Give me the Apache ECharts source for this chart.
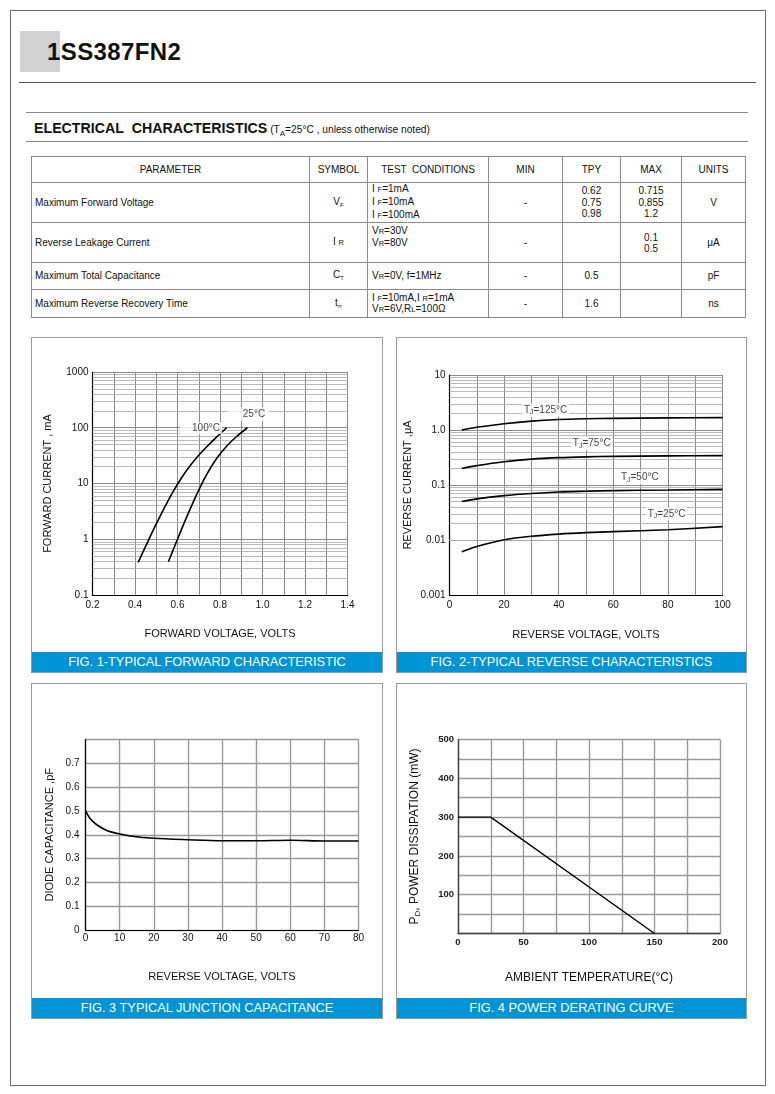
<!DOCTYPE html>
<html><head><meta charset="utf-8">
<script src="https://cdn.jsdelivr.net/npm/echarts@6/dist/echarts.min.js"></script>
<style>
html,body{margin:0;padding:0;background:#fff;}
#page{position:relative;width:775px;height:1094px;overflow:hidden;font-family:"Liberation Sans",Arial,Helvetica,sans-serif;color:#111;}
.abs{position:absolute;white-space:nowrap;}
.hl{position:absolute;height:0;}
.panel{position:absolute;border:1px solid #9a9a9a;box-sizing:border-box;}
.cap{position:absolute;background:#0094d5;color:#fff;font-size:12.8px;text-align:center;line-height:20px;height:20px;white-space:nowrap;}
#tbl{position:absolute;left:31px;top:156px;width:714px;border-collapse:collapse;table-layout:fixed;font-size:10px;line-height:11.7px;}
#tbl td{border:1px solid #8a8a8a;padding:0;vertical-align:middle;white-space:nowrap;overflow:hidden;}
#tbl td.c{text-align:center;}
#tbl td.l{text-align:left;padding-left:3px;}
#tbl td.t{text-align:left;padding-left:4px;}
#tbl tr.hd td{text-align:center;}
.s{font-size:7.5px;}
.sb{font-size:6px;position:relative;top:2px;}
#chart{position:absolute;left:0;top:0;width:775px;height:1094px;z-index:2;}
</style>
</head>
<body>
<div id="page">
  <!-- outer frame -->
  <div class="abs" style="left:10px;top:10px;width:754px;height:1074px;border:1px solid #6a6a6a;"></div>
  <!-- header -->
  <div class="abs" style="left:20px;top:31px;width:40px;height:41px;background:#d2d2d2;"></div>
  <div class="abs" style="left:47px;top:40px;font-size:24px;line-height:24px;font-weight:bold;color:#111;letter-spacing:0.4px;">1SS387FN2</div>
  <div class="hl" style="left:19px;top:82px;width:737px;border-top:1.5px solid #555;"></div>
  <div class="hl" style="left:26px;top:112px;width:722px;border-top:1.5px solid #888;"></div>
  <div class="abs" style="left:34px;top:121px;font-size:14.2px;line-height:14px;font-weight:bold;color:#111;">ELECTRICAL&nbsp; CHARACTERISTICS<span style="font-size:10.2px;font-weight:normal;"> (T<span style="font-size:8px;position:relative;top:3px;">A</span>=25°C , unless otherwise noted)</span></div>
  <div class="hl" style="left:26px;top:141px;width:722px;border-top:1.5px solid #888;"></div>

  <!-- table -->
  <table id="tbl">
    <colgroup><col style="width:278px"><col style="width:58px"><col style="width:121px"><col style="width:74px"><col style="width:58px"><col style="width:61px"><col style="width:64px"></colgroup>
    <tr class="hd" style="height:26px"><td>PARAMETER</td><td>SYMBOL</td><td style="white-space:pre">TEST  CONDITIONS</td><td>MIN</td><td>TPY</td><td>MAX</td><td>UNITS</td></tr>
    <tr style="height:40px"><td class="l">Maximum Forward Voltage</td><td class="c">V<span class="sb">F</span></td><td class="t">I <span class="s">F</span>=1mA<br>I <span class="s">F</span>=10mA<br>I <span class="s">F</span>=100mA</td><td class="c">-</td><td class="c">0.62<br>0.75<br>0.98</td><td class="c">0.715<br>0.855<br>1.2</td><td class="c">V</td></tr>
    <tr style="height:40px"><td class="l">Reverse Leakage Current</td><td class="c">I <span class="s">R</span></td><td class="t" style="vertical-align:top;padding-top:2px;line-height:11px;">V<span class="s">R</span>=30V<br>V<span class="s">R</span>=80V</td><td class="c">-</td><td class="c"></td><td class="c" style="line-height:11px;">0.1<br>0.5</td><td class="c">μA</td></tr>
    <tr style="height:27px"><td class="l">Maximum Total Capacitance</td><td class="c">C<span class="sb">T</span></td><td class="t">V<span class="s">R</span>=0V, f=1MHz</td><td class="c">-</td><td class="c">0.5</td><td class="c"></td><td class="c">pF</td></tr>
    <tr style="height:28px"><td class="l">Maximum Reverse Recovery Time</td><td class="c">t<span class="sb">rr</span></td><td class="t" style="line-height:10px;">I <span class="s">F</span>=10mA,I <span class="s">R</span>=1mA<br>V<span class="s">R</span>=6V,R<span class="s">L</span>=100Ω</td><td class="c">-</td><td class="c">1.6</td><td class="c"></td><td class="c">ns</td></tr>
  </table>

  <!-- panels -->
  <div class="panel" style="left:31px;top:337px;width:352px;height:336px;"></div>
  <div class="panel" style="left:396px;top:337px;width:351px;height:336px;"></div>
  <div class="panel" style="left:31px;top:683px;width:352px;height:336px;"></div>
  <div class="panel" style="left:396px;top:683px;width:351px;height:336px;"></div>
  <div class="cap" style="left:32px;top:652px;width:350px;">FIG. 1-TYPICAL FORWARD CHARACTERISTIC</div>
  <div class="cap" style="left:397px;top:652px;width:349px;">FIG. 2-TYPICAL REVERSE CHARACTERISTICS</div>
  <div class="cap" style="left:32px;top:998px;width:350px;">FIG. 3 TYPICAL JUNCTION CAPACITANCE</div>
  <div class="cap" style="left:397px;top:998px;width:349px;">FIG. 4 POWER DERATING CURVE</div>

  <div id="chart"></div>
</div>
<script>
// ---------------- data ----------------
// Fig.1 forward characteristic (V, mA)
const f1Volt100 = [0.415, 0.46, 0.50, 0.54, 0.58, 0.62, 0.66, 0.70, 0.74, 0.78, 0.831];
const f1Curr100 = [0.385, 0.90, 1.88, 3.78, 7.2, 12.8, 21, 32, 46.5, 66, 100];
const f1Volt25  = [0.557, 0.596, 0.643, 0.690, 0.737, 0.784, 0.831, 0.878, 0.929];
const f1Curr25  = [0.395, 0.92, 2.49, 6.31, 14.4, 28.1, 46.6, 69.7, 100];
const f1XTicks = ['0.2', '0.4', '0.6', '0.8', '1.0', '1.2', '1.4'];
const f1YTicks = ['0.1', '1', '10', '100', '1000'];

// Fig.2 reverse characteristic (V, uA)
const f2Volt  = [4.5, 10, 20, 30, 40, 50, 60, 80, 100];
const f2I125 = [1.0, 1.12, 1.30, 1.45, 1.55, 1.60, 1.63, 1.66, 1.68];
const f2I75  = [0.20, 0.225, 0.265, 0.295, 0.314, 0.325, 0.332, 0.338, 0.342];
const f2I50  = [0.050, 0.056, 0.064, 0.070, 0.0746, 0.077, 0.079, 0.081, 0.0834];
const f2I25  = [0.0061, 0.0076, 0.0101, 0.0117, 0.0128, 0.0136, 0.0142, 0.0154, 0.0175];
const f2XTicks = ['0', '20', '40', '60', '80', '100'];
const f2YTicks = ['0.001', '0.01', '0.1', '1.0', '10'];

// Fig.3 junction capacitance (V, pF)
const f3Volt = [0, 1.4, 3.3, 6.25, 9.8, 13.1, 20, 30, 40, 50, 60, 70, 80];
const f3Cap  = [0.5, 0.467, 0.442, 0.418, 0.404, 0.395, 0.385, 0.379, 0.375, 0.375, 0.377, 0.374, 0.374];
const f3XTicks = ['0', '10', '20', '30', '40', '50', '60', '70', '80'];
const f3YTicks = ['0', '0.1', '0.2', '0.3', '0.4', '0.5', '0.6', '0.7', ''];

// Fig.4 power derating (degC, mW)
const f4Temp  = [0, 25, 150];
const f4Power = [300, 300, 0];
const f4XTicks = ['0', '50', '100', '150', '200'];
const f4YTicks = ['', '100', '200', '300', '400', '500'];

// curve captions: [text, x, y]
const f1Notes = [['100°C', 0.7106, 99], ['25°C', 0.934, 176]];
const f2Notes = [['125°C', 35.2, 2.31], ['75°C', 52.1, 0.573], ['50°C', 69.7, 0.138], ['25°C', 79.5, 0.0297]];

// ---------------- helpers ----------------
const TXT = '#111';
const pairs = (xs, ys) => xs.map((x, i) => [x, ys[i]]);
function logMinors(e0, e1) {
  const out = [];
  for (let e = e0; e < e1; e++) {
    const d = Math.pow(10, e);
    for (let k = 2; k <= 9; k++) out.push(+(k * d).toPrecision(3));
  }
  return out;
}
function minorSeries(idx, vals) {
  return {
    type: 'line', xAxisIndex: idx, yAxisIndex: idx, data: [], z: 1, silent: true,
    markLine: {
      silent: true, z: 1, symbol: ['none', 'none'], animation: false,
      label: {show: false}, emphasis: {disabled: true},
      lineStyle: {color: '#a8a8a8', width: 0.8, type: 'solid'},
      data: vals.map(v => ({yAxis: v}))
    }
  };
}
function curve(idx, data, smooth) {
  return {
    type: 'line', xAxisIndex: idx, yAxisIndex: idx, data: data, z: 3,
    smooth: smooth, showSymbol: false, symbol: 'none', silent: true,
    lineStyle: {color: '#000', width: 1.6}
  };
}
function notes(idx, items, fmt) {
  return {
    type: 'scatter', xAxisIndex: idx, yAxisIndex: idx, z: 4, silent: true,
    symbolSize: 0,
    data: items.map(it => ({value: [it[1], it[2]], name: it[0]})),
    label: {
      show: true, position: 'inside', color: TXT, fontSize: 10,
      backgroundColor: '#fff', padding: [1, 2],
      formatter: p => fmt(p.name),
      rich: {
        t: {fontSize: 10, lineHeight: 12, color: TXT},
        j: {fontSize: 7, lineHeight: 8, verticalAlign: 'bottom', color: TXT}
      }
    }
  };
}
function xAxisBase(idx, o) {
  return Object.assign({
    gridIndex: idx, type: 'value',
    axisLine: {show: true, onZero: false, lineStyle: {color: '#000', width: 1.2}},
    axisTick: {show: false},
    nameLocation: 'middle',
    nameTextStyle: {fontSize: 11, color: TXT}
  }, o);
}

const chart = echarts.init(document.getElementById('chart'), null, {renderer: 'canvas'});
const gridLine = {show: true, lineStyle: {color: '#8a8a8a', width: 1}};
const gridLineB = {show: true, lineStyle: {color: '#9a9a9a', width: 1.4}};

const f1 = notes(0, f1Notes, n => n);
f1.data[0].label = {padding: [1, 2, 1, 12]};
f1.data[1].label = {padding: [2, 4, 2, 15]};
const f2 = notes(1, f2Notes, n => '{t|T}{j|J}{t|=' + n + '}');

const option = {
  backgroundColor: 'transparent',
  animation: false,
  textStyle: {fontFamily: '"Liberation Sans", Arial, sans-serif'},
  grid: [
    {left: 92.5, top: 372, width: 255, height: 223},
    {left: 449.5, top: 375, width: 273, height: 220},
    {left: 85.5, top: 739.5, width: 273, height: 190.5},
    {left: 458, top: 739.5, width: 262, height: 194}
  ],
  xAxis: [
    xAxisBase(0, {
      min: 0.2, max: 1.4, interval: 0.1,
      axisLabel: {fontSize: 10, color: TXT, margin: 5,
        formatter: v => { const r = Math.round(v * 10); return r % 2 === 0 ? f1XTicks[(r - 2) / 2] : ''; }},
      splitLine: gridLine,
      name: 'FORWARD VOLTAGE, VOLTS', nameGap: 33.5
    }),
    xAxisBase(1, {
      min: 0, max: 100, interval: 10,
      axisLabel: {fontSize: 10, color: TXT, margin: 5,
        formatter: v => (Math.round(v) % 20 === 0 ? f2XTicks[Math.round(v) / 20] : '')},
      splitLine: gridLine,
      name: 'REVERSE VOLTAGE, VOLTS', nameGap: 34.5
    }),
    xAxisBase(2, {
      min: 0, max: 80, interval: 10,
      axisLabel: {fontSize: 10, color: TXT, margin: 3,
        formatter: v => f3XTicks[Math.round(v / 10)]},
      splitLine: gridLineB,
      name: 'REVERSE VOLTAGE, VOLTS', nameGap: 41.5
    }),
    xAxisBase(3, {
      min: 0, max: 200, interval: 25,
      axisLine: {show: true, onZero: false, lineStyle: {color: '#444', width: 1.4}},
      axisLabel: {fontSize: 9.5, fontWeight: 'bold', color: '#222', margin: 4,
        formatter: v => (Math.round(v) % 50 === 0 ? f4XTicks[Math.round(v) / 50] : '')},
      splitLine: gridLineB,
      name: 'AMBIENT TEMPERATURE(°C)', nameGap: 38.5,
      nameTextStyle: {fontSize: 12, color: TXT}
    })
  ],
  yAxis: [
    {
      gridIndex: 0, type: 'log', logBase: 10, min: 0.1, max: 1000, splitNumber: 4,
      axisLine: {show: true, lineStyle: {color: '#000', width: 1.2}},
      axisTick: {show: false},
      axisLabel: {fontSize: 10, color: TXT, margin: 4,
        formatter: v => f1YTicks[Math.round(Math.log10(v)) + 1]},
      splitLine: gridLine,
      name: 'FORWARD CURRENT , mA', nameLocation: 'middle', nameGap: 39,
      nameTextStyle: {fontSize: 11, color: TXT}
    },
    {
      gridIndex: 1, type: 'log', logBase: 10, min: 0.001, max: 10, splitNumber: 4,
      axisLine: {show: true, lineStyle: {color: '#000', width: 1.2}},
      axisTick: {show: false},
      axisLabel: {fontSize: 10, color: TXT, margin: 4,
        formatter: v => f2YTicks[Math.round(Math.log10(v)) + 3]},
      splitLine: gridLine,
      name: 'REVERSE CURRENT ,μA', nameLocation: 'middle', nameGap: 36,
      nameTextStyle: {fontSize: 11, color: TXT}
    },
    {
      gridIndex: 2, type: 'value', min: 0, max: 0.8, interval: 0.1,
      axisLine: {show: true, lineStyle: {color: '#000', width: 1.2}},
      axisTick: {show: false},
      axisLabel: {fontSize: 10, color: TXT, margin: 6,
        formatter: v => f3YTicks[Math.round(v * 10)]},
      splitLine: gridLineB,
      name: 'DIODE CAPACITANCE ,pF', nameLocation: 'middle', nameGap: 30,
      nameTextStyle: {fontSize: 11, color: TXT}
    },
    {
      gridIndex: 3, type: 'value', min: 0, max: 500, interval: 50,
      axisLine: {show: true, lineStyle: {color: '#444', width: 1.4}},
      axisTick: {show: false},
      axisLabel: {fontSize: 9.5, fontWeight: 'bold', color: '#222', margin: 4,
        formatter: v => (Math.round(v) % 100 === 0 ? f4YTicks[Math.round(v) / 100] : '')},
      splitLine: gridLineB,
      name: '{p|P}{d|D}{p|, POWER DISSIPATION (mW)}', nameLocation: 'middle', nameGap: 36,
      nameTextStyle: {fontSize: 12, color: TXT,
        rich: {p: {fontSize: 12, lineHeight: 14, color: TXT}, d: {fontSize: 8, lineHeight: 9, verticalAlign: 'bottom', color: TXT}}}
    }
  ],
  series: [
    minorSeries(0, logMinors(-1, 3)),
    minorSeries(1, logMinors(-3, 1)),
    curve(0, pairs(f1Volt100, f1Curr100), 0.3),
    curve(0, pairs(f1Volt25, f1Curr25), 0.3),
    curve(1, pairs(f2Volt, f2I125), 0.3),
    curve(1, pairs(f2Volt, f2I75), 0.3),
    curve(1, pairs(f2Volt, f2I50), 0.3),
    curve(1, pairs(f2Volt, f2I25), 0.3),
    curve(2, pairs(f3Volt, f3Cap), 0.3),
    Object.assign(curve(3, pairs(f4Temp, f4Power), false), {lineStyle: {color: '#000', width: 1.4}}),
    f1, f2
  ]
};
chart.setOption(option);
</script>
</body></html>
